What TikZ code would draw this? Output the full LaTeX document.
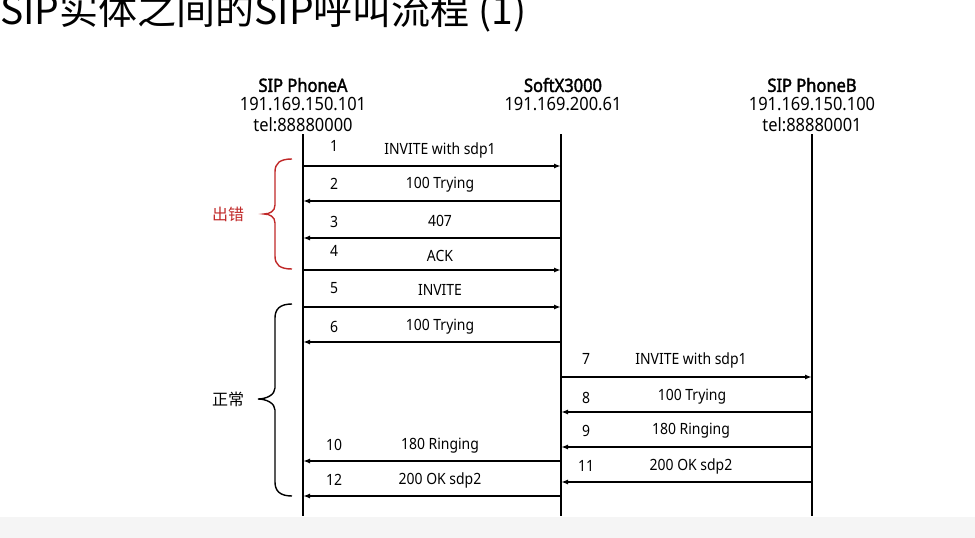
\documentclass[tikz,border=0pt]{standalone}
\usepackage{fontspec}
\setmainfont{Noto Sans}[FakeStretch=0.9, BoldFont={Noto Sans}, BoldFeatures={FakeBold=2}]
\newfontfamily\cjk{Noto Sans CJK SC}
\usetikzlibrary{arrows.meta}
\definecolor{errred}{RGB}{192,40,40}
\begin{document}
\begin{tikzpicture}[x=1pt,y=-1pt,
  hdr/.style={font=\fontsize{18.3}{20}\selectfont, inner sep=0pt},
  hdrb/.style={font=\fontsize{18.3}{20}\selectfont\bfseries, inner sep=0pt},
  life/.style={line width=1.2pt, black},
  msg/.style={line width=1.4pt, -{Latex[length=7pt,width=5pt]}},
  num/.style={font=\fontsize{15.5}{17}\selectfont, inner sep=0pt},
  txt/.style={font=\fontsize{15.5}{17}\selectfont, inner sep=0pt},
  brc/.style={line width=1.4pt},
]
\useasboundingbox (0,0) rectangle (975,538);
\fill[black!4] (0,517) rectangle (975,538);
% title
\node[anchor=base west, inner sep=0pt, font=\cjk\fontsize{39}{41}\selectfont] (title) at (0,24.5) {SIP实体之间的SIP呼叫流程 (1)};
% headers
\node[hdrb] (hA1) at (303,85) {SIP PhoneA};
\node[hdr]  (hA2) at (303,104) {191.169.150.101};
\node[hdr]  (hA3) at (303,125) {tel:88880000};
\node[hdrb] (hS1) at (563,85) {SoftX3000};
\node[hdr]  (hS2) at (563,104) {191.169.200.61};
\node[hdrb] (hB1) at (812,85) {SIP PhoneB};
\node[hdr]  (hB2) at (812,104) {191.169.150.100};
\node[hdr]  (hB3) at (812,125) {tel:88880001};
% lifelines
\coordinate (At) at (303,134); \coordinate (Ab) at (303,516);
\coordinate (St) at (561,134); \coordinate (Sb) at (561,516);
\coordinate (Bt) at (812,134); \coordinate (Bb) at (812,516);
\draw[life] (At) -- (Ab);
\draw[life] (St) -- (Sb);
\draw[life] (Bt) -- (Bb);
% messages: number / y / from-x / to-x / num-x / num-y / text-x / text-y / text
\foreach \n/\y/\fx/\tx/\nx/\ny/\lx/\ly/\t in {
  1/166/303/561/334/146/440/150/INVITE with sdp1,
  2/201/561/303/334/184/440/185/100 Trying,
  3/238/561/303/334/222/440/221/407,
  4/270/303/561/334/251/440/256/ACK,
  5/307/303/561/334/288/440/290/INVITE,
  6/342/561/303/334/327/440/327/100 Trying,
  7/377/561/812/586/359/691/360/INVITE with sdp1,
  8/412/812/561/586/398/692/397/100 Trying,
  9/447/812/561/586/431/691/431/180 Ringing,
  10/461/561/303/334/445/440/446/180 Ringing,
  11/482/812/561/586/466/691/466/200 OK sdp2,
  12/496/561/303/334/480/440/480/200 OK sdp2}{
  \coordinate (m\n s) at (\fx,\y);
  \coordinate (m\n e) at (\tx,\y);
  \draw[msg] (m\n s) -- (m\n e);
  \node[num] (n\n) at (\nx,\ny) {\n};
  \node[txt] (t\n) at (\lx,\ly) {\t};
}
% braces
\draw[brc, errred] (292,159) .. controls (280,159) and (275,163) .. (275,172) -- (275,205) .. controls (275,211) and (270,214) .. (264,214) .. controls (270,214) and (275,217) .. (275,223) -- (275,256) .. controls (275,265) and (280,269) .. (292,269);
\node[inner sep=0pt, text=errred, font=\cjk\fontsize{16}{18}\selectfont] (err) at (228,214) {出错};
\draw[brc] (292,304) .. controls (280,304) and (275,309) .. (275,318) -- (275,388) .. controls (275,395) and (266,399) .. (258,399) .. controls (266,399) and (275,403) .. (275,410) -- (275,482) .. controls (275,491) and (280,496) .. (292,496);
\node[inner sep=0pt, font=\cjk\fontsize{16}{18}\selectfont] (ok) at (228,399) {正常};
\end{tikzpicture}
\end{document}
